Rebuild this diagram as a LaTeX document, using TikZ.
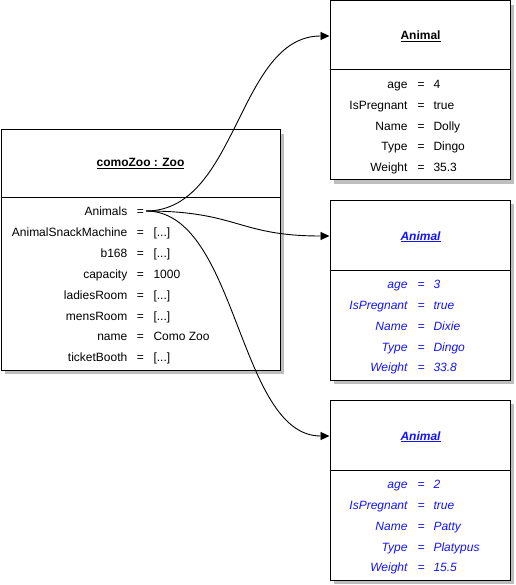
\documentclass[tikz,border=0pt]{standalone}
\usepackage{fontspec}
\setmainfont{Liberation Sans}
\usetikzlibrary{arrows.meta,shadows,calc}
\definecolor{objblue}{RGB}{20,20,250}
\definecolor{shadowgray}{RGB}{190,190,190}
\begin{document}
\begin{tikzpicture}[x=1pt,y=-1pt,
  objbox/.style={draw=black, fill=white, line width=1pt, inner sep=0pt,
    general shadow={fill=shadowgray, shadow xshift=4pt, shadow yshift=-4pt}},
  sep/.style={line width=1pt},
  txt/.style={inner sep=0pt, font=\fontsize{12}{14}\selectfont},
  lab/.style={txt, anchor=base east},
  eq/.style={txt, anchor=base},
  val/.style={txt, anchor=base west},
  ttl/.style={txt, anchor=base, font=\fontsize{12}{14}\selectfont\bfseries},
  blu/.style={text=objblue, font=\fontsize{12}{14}\selectfont\itshape},
  bluttl/.style={text=objblue, font=\fontsize{12}{14}\selectfont\bfseries\itshape},
  conn/.style={line width=0.9pt, -{Triangle[length=9pt,width=8pt]}}
]
\useasboundingbox (0,0) rectangle (515,585);

% ---------- Zoo object ----------
\node[objbox, minimum width=279pt, minimum height=240pt] (zoo) at (140.5,250) {};
\draw[sep] (zoo.west |- 0,197) -- (zoo.east |- 0,197);
\node[ttl] (zt) at (140.5,167) {\underline{comoZoo : Zoo}};
\foreach \l/\v/\y/\n in {
  Animals//215.5/1,
  AnimalSnackMachine/{[...]}/236.4/2,
  b168/{[...]}/257.3/3,
  capacity/1000/278.2/4,
  ladiesRoom/{[...]}/299.1/5,
  mensRoom/{[...]}/320.0/6,
  name/Como Zoo/340.9/7,
  ticketBooth/{[...]}/361.8/8}{
  \node[lab] (zl\n) at (127.5,\y) {\l};
  \node[eq] (ze\n) at (140.5,\y) {=};
  \node[val] (zv\n) at (153.3,\y) {\v};
}

% ---------- Animal 1 ----------
\node[objbox, minimum width=180pt, minimum height=179pt] (a1) at (420,90.5) {};
\draw[sep] (a1.west |- 0,70) -- (a1.east |- 0,70);
\node[ttl] (a1t) at (420.5,40) {\underline{Animal}};
\foreach \l/\v/\y/\n in {age/4/88.3/1, IsPregnant/true/109.2/2, Name/Dolly/130.1/3, Type/Dingo/151.0/4, Weight/35.3/171.9/5}{
  \node[lab] (al1\n) at (407.7,\y) {\l};
  \node[eq] (ae1\n) at (421,\y) {=};
  \node[val] (av1\n) at (433.3,\y) {\v};
}

% ---------- Animal 2 ----------
\node[objbox, minimum width=180pt, minimum height=180pt] (a2) at (420,290) {};
\draw[sep] (a2.west |- 0,270) -- (a2.east |- 0,270);
\node[ttl, bluttl] (a2t) at (420.5,240) {\underline{Animal}};
\foreach \l/\v/\y/\n in {age/3/288.3/1, IsPregnant/true/309.2/2, Name/Dixie/330.1/3, Type/Dingo/351.0/4, Weight/33.8/371.9/5}{
  \node[lab, blu] (al2\n) at (407.7,\y) {\l};
  \node[eq, blu] (ae2\n) at (421,\y) {=};
  \node[val, blu] (av2\n) at (433.3,\y) {\v};
}

% ---------- Animal 3 ----------
\node[objbox, minimum width=180pt, minimum height=180pt] (a3) at (420,490) {};
\draw[sep] (a3.west |- 0,470) -- (a3.east |- 0,470);
\node[ttl, bluttl] (a3t) at (420.5,440) {\underline{Animal}};
\foreach \l/\v/\y/\n in {age/2/488.3/1, IsPregnant/true/509.2/2, Name/Patty/530.1/3, Type/Platypus/551.0/4, Weight/15.5/571.9/5}{
  \node[lab, blu] (al3\n) at (407.7,\y) {\l};
  \node[eq, blu] (ae3\n) at (421,\y) {=};
  \node[val, blu] (av3\n) at (433.3,\y) {\v};
}

% ---------- connectors ----------
\coordinate (src) at (146,211);
\coordinate (t1) at (a1.west |- 0,36);
\coordinate (t2) at (a2.west |- 0,236);
\coordinate (t3) at (a3.west |- 0,436);
\draw[conn] (src) .. controls +(92,0) and +(-92,0) .. (t1);
\draw[conn] (src) .. controls +(92,0) and +(-92,0) .. (t2);
\draw[conn] (src) .. controls +(92,0) and +(-92,0) .. (t3);
\end{tikzpicture}
\end{document}
